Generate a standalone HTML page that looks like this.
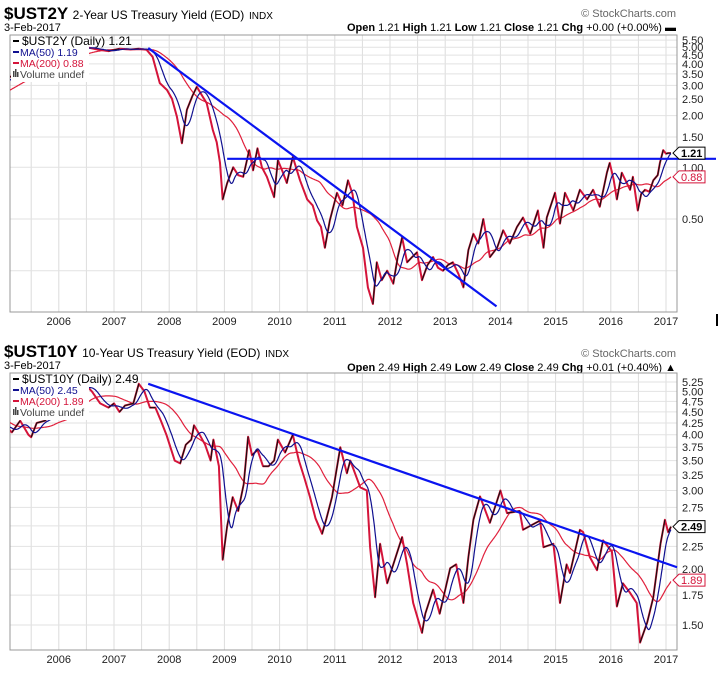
<!DOCTYPE html>
<html><head><meta charset="utf-8"><style>
body{margin:0;background:#fff;width:720px;height:676px;overflow:hidden;font-family:"Liberation Sans",sans-serif}
svg{display:block}
</style></head><body>
<svg id="chart" width="720" height="676" viewBox="0 0 720 676" xmlns="http://www.w3.org/2000/svg" font-family="Liberation Sans, sans-serif">
<defs>
<clipPath id="clipTop"><rect x="10" y="35" width="667" height="277"/></clipPath>
<clipPath id="clipBot"><rect x="10" y="373" width="667" height="277"/></clipPath>
</defs>
<g>
<text x="4" y="19" font-size="17" font-weight="bold">$UST2Y <tspan font-size="12" font-weight="normal">2-Year US Treasury Yield (EOD)</tspan> <tspan font-size="10" font-weight="normal">INDX</tspan></text>
<text x="4" y="31" font-size="11">3-Feb-2017</text>
<text x="676" y="17" font-size="11" fill="#666" text-anchor="end">© StockCharts.com</text>
<text x="676" y="31" font-size="11" text-anchor="end"><tspan font-weight="bold">Open</tspan> 1.21  <tspan font-weight="bold">High</tspan> 1.21  <tspan font-weight="bold">Low</tspan> 1.21  <tspan font-weight="bold">Close</tspan> 1.21  <tspan font-weight="bold">Chg</tspan> +0.00 (+0.00%) ▬</text>
</g>
<g>
<text x="4" y="357" font-size="17" font-weight="bold">$UST10Y <tspan font-size="12" font-weight="normal">10-Year US Treasury Yield (EOD)</tspan> <tspan font-size="10" font-weight="normal">INDX</tspan></text>
<text x="4" y="369" font-size="11">3-Feb-2017</text>
<text x="676" y="357" font-size="11" fill="#666" text-anchor="end">© StockCharts.com</text>
<text x="676" y="371" font-size="11" text-anchor="end"><tspan font-weight="bold">Open</tspan> 2.49  <tspan font-weight="bold">High</tspan> 2.49  <tspan font-weight="bold">Low</tspan> 2.49  <tspan font-weight="bold">Close</tspan> 2.49  <tspan font-weight="bold">Chg</tspan> +0.01 (+0.40%) ▲</text>
</g>
<rect x="716" y="314" width="2" height="12" fill="#000"/>
</svg>
<script>
// ---- shared x axis ----
const yearTicks = [2006,2007,2008,2009,2010,2011,2012,2013,2014,2015,2016,2017];

// ---- 2-Year data ----
const t2Dates = [2004.3,2004.7,2005.0,2005.15,2005.5,2005.8,2006.0,2006.3,2006.5,2006.7,2006.9,2007.1,2007.3,2007.45,2007.59,2007.7,2007.83,2007.96,2008.05,2008.14,2008.23,2008.32,2008.42,2008.5,2008.6,2008.68,2008.79,2008.86,2008.92,2008.97,2009.05,2009.16,2009.25,2009.34,2009.45,2009.52,2009.6,2009.68,2009.77,2009.9,2009.97,2010.05,2010.13,2010.24,2010.37,2010.5,2010.6,2010.68,2010.75,2010.82,2010.91,2011.04,2011.14,2011.24,2011.32,2011.4,2011.51,2011.6,2011.69,2011.76,2011.85,2011.95,2012.06,2012.14,2012.22,2012.31,2012.4,2012.49,2012.58,2012.68,2012.78,2012.87,2012.96,2013.05,2013.14,2013.24,2013.33,2013.42,2013.51,2013.6,2013.69,2013.81,2013.94,2014.05,2014.17,2014.3,2014.41,2014.54,2014.68,2014.78,2014.84,2014.99,2015.08,2015.17,2015.32,2015.44,2015.57,2015.68,2015.8,2015.93,2015.98,2016.05,2016.11,2016.2,2016.35,2016.4,2016.49,2016.55,2016.62,2016.7,2016.77,2016.85,2016.89,2016.95,2017.0,2017.04,2017.09];
const t2Vals = [2.4,2.7,3.2,3.4,3.8,4.2,4.4,4.8,5.0,4.85,4.75,4.9,4.85,4.9,4.83,4.4,3.09,2.82,2.5,1.97,1.38,2.16,2.6,2.94,2.6,2.36,1.65,1.4,1.06,0.65,0.81,1.0,0.9,0.88,1.26,0.96,1.29,1.0,0.88,0.67,1.1,0.95,0.81,1.15,0.84,0.65,0.6,0.49,0.45,0.34,0.49,0.71,0.6,0.84,0.7,0.45,0.34,0.2,0.16,0.28,0.22,0.25,0.21,0.3,0.39,0.28,0.3,0.32,0.22,0.27,0.3,0.26,0.25,0.27,0.28,0.24,0.2,0.33,0.41,0.36,0.5,0.3,0.34,0.43,0.36,0.45,0.51,0.41,0.56,0.34,0.51,0.71,0.47,0.71,0.56,0.74,0.65,0.74,0.59,0.93,1.06,0.85,0.65,0.93,0.74,0.88,0.56,0.7,0.74,0.72,0.84,0.9,1.06,1.26,1.2,1.21,1.21];
const t2Ticks = [5.5,5.0,4.5,4.0,3.5,3.0,2.5,2.0,1.5,1.0,0.5];
const t2Grid = [0.25];
const t2Trend = [[2007.62,4.95],[2013.93,0.155]];
const t2Level = [[2009.05,1.12],[2017.8,1.12]];
const t2Last = [1.21, 0.88];

// ---- 10-Year data ----
const t10Dates = [2004.3,2004.7,2005.0,2005.15,2005.3,2005.45,2005.5,2005.6,2005.75,2005.9,2006.1,2006.3,2006.5,2006.6,2006.75,2006.9,2007.0,2007.1,2007.2,2007.35,2007.45,2007.55,2007.65,2007.75,2007.85,2007.95,2008.1,2008.2,2008.3,2008.4,2008.45,2008.55,2008.65,2008.75,2008.8,2008.9,2008.97,2009.05,2009.15,2009.25,2009.35,2009.43,2009.5,2009.6,2009.7,2009.8,2009.9,2009.97,2010.1,2010.24,2010.35,2010.45,2010.55,2010.65,2010.77,2010.85,2010.95,2011.1,2011.22,2011.28,2011.46,2011.58,2011.64,2011.73,2011.82,2011.95,2012.06,2012.22,2012.31,2012.42,2012.58,2012.64,2012.78,2012.9,2013.09,2013.2,2013.33,2013.42,2013.51,2013.63,2013.81,2014.0,2014.12,2014.35,2014.41,2014.72,2014.78,2014.96,2015.08,2015.2,2015.26,2015.44,2015.5,2015.62,2015.75,2015.86,2016.02,2016.11,2016.22,2016.35,2016.47,2016.53,2016.66,2016.77,2016.9,2016.98,2017.04,2017.09];
const t10Vals = [4.7,4.1,4.2,4.05,4.3,4.0,3.95,4.25,4.3,4.5,4.6,5.0,5.15,5.0,4.7,4.6,4.7,4.5,4.65,4.7,5.2,5.0,4.6,4.6,4.3,4.0,3.5,3.45,3.8,3.9,4.2,4.0,3.8,3.5,3.9,3.4,2.1,2.5,2.9,2.7,3.1,3.96,3.6,3.7,3.4,3.4,3.5,3.9,3.65,4.0,3.5,3.2,2.9,2.6,2.4,2.6,2.9,3.75,3.28,3.5,3.05,3.0,2.24,1.73,2.28,1.86,2.05,2.36,2.05,1.68,1.44,1.59,1.8,1.59,2.01,2.05,1.68,2.13,2.58,2.91,2.54,3.0,2.67,2.7,2.45,2.57,2.24,2.28,1.68,2.05,1.96,2.45,2.42,2.13,1.99,2.32,2.19,1.65,1.86,1.77,1.68,1.37,1.52,1.73,2.28,2.58,2.42,2.49];
const t10Ticks = [5.25,5.0,4.75,4.5,4.25,4.0,3.75,3.5,3.25,3.0,2.75,2.5,2.25,2.0,1.75,1.5];
const t10Grid = [];
const t10Trend = [[2007.62,5.2],[2017.2,2.02]];
const t10Level = [];
const t10Last = [2.49, 1.89];

const NS = 'http://www.w3.org/2000/svg';
const svg = document.getElementById('chart');
function el(tag, attrs, parent){const e=document.createElementNS(NS,tag);for(const k in attrs)e.setAttribute(k,attrs[k]);(parent||svg).appendChild(e);return e;}
function xScale(t){return 390+(t-2012)*55.2;}

function movingAvg(dates, vals, win){
  const dt=1/252, start=dates[0], end=dates[dates.length-1];
  const grid=[];let j=0;
  for(let t=start;t<=end+1e-9;t+=dt){
    while(j<dates.length-2 && dates[j+1]<t)j++;
    const f=(t-dates[j])/(dates[j+1]-dates[j]);
    grid.push([t, vals[j]+(vals[j+1]-vals[j])*Math.max(0,Math.min(1,f))]);
  }
  const out=[];let sum=0;
  for(let i=0;i<grid.length;i++){
    sum+=grid[i][1]; if(i>=win)sum-=grid[i-win][1];
    const n=Math.min(i+1,win);
    if(i%3===0||i===grid.length-1) out.push([grid[i][0],sum/n]);
  }
  return out;
}

function drawPanel(cfg){
  const {top,bottom,yOf,dates,vals,ticks,grid,trend,level,last,clip,prefix,legendName,ma50txt,ma200txt}=cfg;
  const g=el('g',{});
  
  
  for(let t=2005.5;t<=2017.01;t+=0.5){
    const x=xScale(t);
    const l=el('line',{x1:x,x2:x,y1:top,y2:bottom,stroke:'#dcdcdc','stroke-width':1},g);
    
    
  }
  ticks.concat(grid).forEach(v=>{
    const y=yOf(v);
    const l=el('line',{x1:10,x2:677,y1:y,y2:y,stroke:'#e2e2e2','stroke-width':1},g);
    
    
  });
  ticks.forEach(v=>{
    const tx=el('text',{x:682,y:yOf(v)+4,'font-size':11,fill:'#222'},g);
    tx.textContent=v.toFixed(2);
    
    
  });
  yearTicks.forEach(yr=>{
    const tx=el('text',{x:xScale(yr),y:bottom+13,'font-size':11,'text-anchor':'middle',fill:'#222'},g);
    tx.textContent=yr;
    
    
  });
  const border=el('rect',{x:10,y:top,width:667,height:bottom-top,fill:'none',stroke:'#999','stroke-width':1},g);
  
  
  const pg=el('g',{'clip-path':'url(#'+clip+')'},g);
  
  
  const ma200=movingAvg(dates,vals,200);
  const p200=el('polyline',{points:ma200.map(p=>xScale(p[0]).toFixed(1)+','+yOf(p[1]).toFixed(1)).join(' '),fill:'none',stroke:'#e0203c','stroke-width':1.2},pg);
  
  
  const pr=el('polyline',{points:dates.map((d,i)=>xScale(d).toFixed(1)+','+yOf(vals[i]).toFixed(1)).join(' '),fill:'none',stroke:'#d4143a','stroke-width':2,'stroke-linejoin':'round'},pg);
  
  
  for(let i=1;i<dates.length;i++){
    if(vals[i]<vals[i-1]) continue;
    const s=el('line',{x1:xScale(dates[i-1]),y1:yOf(vals[i-1]),x2:xScale(dates[i]),y2:yOf(vals[i]),stroke:'#111','stroke-width':1.1},pg);
    
    
  }
  const ma50=movingAvg(dates,vals,50);
  const p50=el('polyline',{points:ma50.map(p=>xScale(p[0]).toFixed(1)+','+yOf(p[1]).toFixed(1)).join(' '),fill:'none',stroke:'#101090','stroke-width':1.2},pg);
  
  
  const tl=el('line',{x1:xScale(trend[0][0]),y1:yOf(trend[0][1]),x2:xScale(trend[1][0]),y2:yOf(trend[1][1]),stroke:'#0a14f0','stroke-width':2.2},g);
  
  
  if(level.length){
    const lv=el('line',{x1:xScale(level[0][0]),y1:yOf(level[0][1]),x2:716,y2:yOf(level[1][1]),stroke:'#0a14f0','stroke-width':2.2},g);
    
    
  }
  [[last[0],'#000','#000'],[last[1],'#d4143a','#d4143a']].forEach((d,i)=>{
    const y=yOf(d[0]);
    const tg=el('g',{},g);
    
    
    el('path',{d:`M673 ${y} L679 ${y-6} L705 ${y-6} L705 ${y+6} L679 ${y+6} Z`,fill:'#fff',stroke:d[1],'stroke-width':1},tg);
    const tx=el('text',{x:681,y:y+4,'font-size':11,'font-weight':i===0?'bold':'normal',fill:d[2]},tg);
    tx.textContent=d[0].toFixed(2);
  });
  const lg=el('g',{},g);
  
  
  el('rect',{x:11,y:top+1,width:cfg.legendW,height:46,fill:'#fff'},lg);
  const rows=[[legendName,'#000'],[ma50txt,'#101090'],[ma200txt,'#d4143a'],['Volume undef','#444']];
  rows.forEach((r,i)=>{
    const y=top+10+i*11;
    if(i<3) el('line',{x1:13,x2:19,y1:y-4,y2:y-4,stroke:r[1],'stroke-width':2},lg);
    else { el('rect',{x:13,y:y-7,width:1.5,height:6,fill:'#444'},lg);el('rect',{x:15,y:y-9,width:1.5,height:8,fill:'#444'},lg);el('rect',{x:17,y:y-6,width:1.5,height:5,fill:'#444'},lg); }
    const tx=el('text',{x:i===0?22:20,y:y,'font-size':i===0?12:10.5,fill:r[1]},lg);
    tx.textContent=r[0];
  });
}

const yTop=v=>219-74.6*Math.log(v/0.5);
const yBot=v=>625-194*Math.log(v/1.5);
drawPanel({top:35,bottom:312,yOf:yTop,dates:t2Dates,vals:t2Vals,ticks:t2Ticks,grid:t2Grid,trend:t2Trend,level:t2Level,last:t2Last,clip:'clipTop',prefix:'ust2y',legendName:'$UST2Y (Daily) 1.21',ma50txt:'MA(50) 1.19',ma200txt:'MA(200) 0.88',legendW:78});
drawPanel({top:373,bottom:650,yOf:yBot,dates:t10Dates,vals:t10Vals,ticks:t10Ticks,grid:t10Grid,trend:t10Trend,level:t10Level,last:t10Last,clip:'clipBot',prefix:'ust10y',legendName:'$UST10Y (Daily) 2.49',ma50txt:'MA(50) 2.45',ma200txt:'MA(200) 1.89',legendW:78});
</script>
</body></html>
